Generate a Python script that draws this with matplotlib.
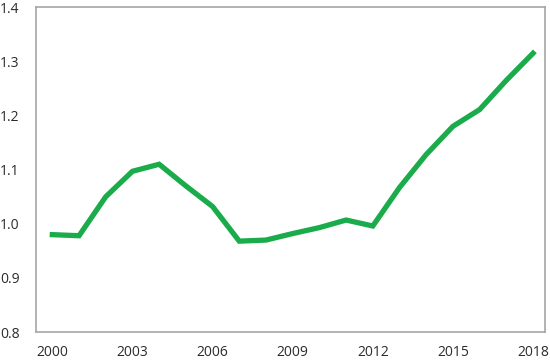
import matplotlib.pyplot as plt

# === datos ===
years = list(range(2000, 2019))
values = [0.980, 0.978, 1.050, 1.097, 1.110, 1.070, 1.032, 0.968, 0.970,
          0.982, 0.993, 1.007, 0.996, 1.067, 1.128, 1.180, 1.211, 1.265, 1.315]
xticks = [2000, 2003, 2006, 2009, 2012, 2015, 2018]
yticks = [0.8, 0.9, 1.0, 1.1, 1.2, 1.3, 1.4]

plt.rcParams['font.family'] = ['Open Sans', 'DejaVu Sans']

fig = plt.figure(figsize=(5.5, 3.61), dpi=100)
ax = fig.add_axes([0.066, 0.080, 0.925, 0.900])

ax.plot(years, values, color='#1aab4b', linewidth=3.8, solid_joinstyle='miter')

ax.set_xlim(1999.4, 2018.45)
ax.set_ylim(0.8, 1.4)
ax.set_xticks(xticks)
ax.set_yticks(yticks)
ax.set_yticklabels([f"{v:.1f}" for v in yticks])

for s in ax.spines.values():
    s.set_color('#a6a6a6')
    s.set_linewidth(1.2)

ax.tick_params(length=0, labelsize=10, colors='#2b2b2b')
ax.tick_params(axis='y', pad=12)
ax.tick_params(axis='x', pad=9)

fig.savefig("out.png", dpi=100)
